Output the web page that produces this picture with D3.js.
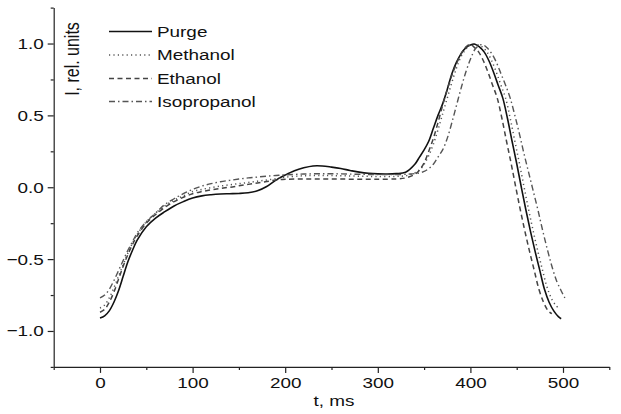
<!DOCTYPE html>
<html><head><meta charset="utf-8">
<script src="https://cdn.jsdelivr.net/npm/d3@7"></script>
<style>
body{margin:0;background:#fff;}
text{font-family:"Liberation Sans",Arial,sans-serif;fill:#111;}
</style></head>
<body><svg id="chart" width="621" height="414"></svg>
<script>
// ---- data ----
const seriesNames = ["Purge","Methanol","Ethanol","Isopropanol"];
const purgeT = [0,5,10,15,20,25,30,35,40,50,60,70,80,90,100,110,120,130,140,150,160,170,180,190,200,210,220,230,240,250,260,270,280,290,300,310,320,330,340,345,350,355,360,365,370,375,380,385,390,395,400,405,410,415,420,425,430,435,440,445,450,455,460,465,470,475,480,485,490,495,498];
const purgeY = [-0.91,-0.895,-0.86,-0.80,-0.72,-0.62,-0.52,-0.44,-0.37,-0.275,-0.215,-0.17,-0.13,-0.10,-0.075,-0.06,-0.052,-0.047,-0.045,-0.043,-0.038,-0.025,0.005,0.05,0.085,0.115,0.135,0.148,0.148,0.14,0.13,0.117,0.105,0.097,0.093,0.092,0.095,0.105,0.16,0.21,0.26,0.32,0.41,0.50,0.58,0.68,0.79,0.87,0.93,0.97,0.99,0.995,0.975,0.94,0.88,0.80,0.71,0.62,0.48,0.32,0.165,0.0,-0.16,-0.31,-0.45,-0.58,-0.71,-0.80,-0.86,-0.90,-0.915];
const methanolT = [0,5,10,15,20,25,30,35,40,50,60,70,80,90,100,110,120,130,140,150,160,170,180,190,200,220,240,260,280,300,320,330,340,345,350,355,360,365,370,375,380,385,390,395,400,405,410,413,418,423,428,433,438,443,448,453,458,463,468,473,478,483,488,492,495];
const methanolY = [-0.84,-0.82,-0.77,-0.70,-0.62,-0.54,-0.46,-0.39,-0.33,-0.24,-0.18,-0.13,-0.09,-0.06,-0.03,-0.015,-0.003,0.008,0.017,0.025,0.033,0.042,0.05,0.06,0.07,0.08,0.082,0.08,0.077,0.075,0.076,0.08,0.10,0.12,0.16,0.22,0.30,0.40,0.51,0.62,0.73,0.83,0.91,0.96,0.99,0.998,0.985,0.975,0.94,0.88,0.80,0.71,0.62,0.48,0.32,0.165,0.0,-0.16,-0.31,-0.45,-0.58,-0.70,-0.78,-0.82,-0.84];
const ethanolT = [0,5,10,15,20,25,30,35,40,50,60,70,80,90,100,110,120,130,140,150,160,170,180,190,200,220,240,260,280,300,320,330,340,345,350,355,360,365,370,375,380,385,390,395,400,404,409,414,419,424,429,434,439,444,449,454,459,464,469,474,479,484,488];
const ethanolY = [-0.87,-0.85,-0.80,-0.73,-0.64,-0.55,-0.47,-0.40,-0.34,-0.25,-0.19,-0.14,-0.10,-0.07,-0.045,-0.03,-0.018,-0.008,0.0,0.01,0.02,0.03,0.04,0.05,0.055,0.058,0.058,0.057,0.056,0.056,0.058,0.065,0.09,0.12,0.17,0.25,0.34,0.45,0.57,0.68,0.78,0.86,0.93,0.975,0.995,0.975,0.94,0.88,0.80,0.71,0.62,0.48,0.32,0.165,0.0,-0.16,-0.31,-0.45,-0.58,-0.71,-0.80,-0.86,-0.88];
const isopropanolT = [0,5,10,15,20,25,30,35,40,50,60,70,80,90,100,110,120,130,140,150,160,170,180,190,200,220,240,260,280,300,320,335,345,350,355,360,365,370,375,380,385,390,395,400,405,410,414,418,423,428,433,438,443,448,453,458,463,468,473,478,483,488,493,498,502];
const isopropanolY = [-0.77,-0.75,-0.71,-0.65,-0.58,-0.51,-0.44,-0.38,-0.32,-0.24,-0.18,-0.12,-0.08,-0.045,-0.015,0.008,0.025,0.038,0.048,0.057,0.065,0.071,0.077,0.082,0.086,0.092,0.094,0.093,0.09,0.088,0.088,0.092,0.10,0.11,0.13,0.16,0.21,0.26,0.34,0.45,0.57,0.69,0.80,0.89,0.96,0.99,0.99,0.97,0.93,0.87,0.79,0.71,0.62,0.50,0.37,0.23,0.10,-0.03,-0.16,-0.30,-0.43,-0.55,-0.65,-0.72,-0.77];
const xMajorTicks = [0,100,200,300,400,500];
const xMinorTicks = [-50,50,150,250,350,450,550];
const yMajorTicks = [-1.0,-0.5,0.0,0.5,1.0];
const yMinorTicks = [-1.25,-0.75,-0.25,0.25,0.75,1.25];
const xLabel = "t, ms";
const yLabel = "I, rel. units";

// ---- chart ----
const svg = d3.select("#chart");
const x = d3.scaleLinear().domain([-50,550]).range([53.7,609.3]);
const y = d3.scaleLinear().domain([-1.25,1.25]).range([366.9,7.6]);
const SX = 1.22; // horizontal text stretch of the original
const fs = 15.5;

const series = [
  {name:seriesNames[0], t:purgeT, v:purgeY, color:"#111", dash:null, w:1.6},
  {name:seriesNames[1], t:methanolT, v:methanolY, color:"#555", dash:"1.2,3.2", w:1.5},
  {name:seriesNames[2], t:ethanolT, v:ethanolY, color:"#444", dash:"5,3.5", w:1.5},
  {name:seriesNames[3], t:isopropanolT, v:isopropanolY, color:"#555", dash:"6,3,1.5,3", w:1.4}
];

const line = d3.line().x(d=>x(d[0])).y(d=>y(d[1])).curve(d3.curveCatmullRom.alpha(0.5));

// axes
const xAxisMajor = d3.axisBottom(x).tickValues(xMajorTicks).tickSize(6).tickSizeOuter(0).tickFormat(d3.format("d")).tickPadding(4);
const gx = svg.append("g").attr("transform",`translate(0,${y(-1.25)})`).call(xAxisMajor);
gx.append("g").call(d3.axisBottom(x).tickValues(xMinorTicks).tickSize(3).tickSizeOuter(0).tickFormat(""))
  .select(".domain").remove();
gx.selectAll(".tick text").attr("font-size",fs).attr("fill","#111").style("font-family","'Liberation Sans',Arial,sans-serif")
  .attr("transform",`scale(${SX},1)`);

const yAxisMajor = d3.axisLeft(y).tickValues(yMajorTicks).tickSize(6).tickSizeOuter(0).tickFormat(d3.format(".1f")).tickPadding(4);
const gy = svg.append("g").attr("transform",`translate(${x(-50)},0)`).call(yAxisMajor);
gy.append("g").call(d3.axisLeft(y).tickValues(yMinorTicks).tickSize(3).tickSizeOuter(0).tickFormat(""))
  .select(".domain").remove();
gy.selectAll(".tick text").attr("font-size",fs).attr("fill","#111").style("font-family","'Liberation Sans',Arial,sans-serif")
  .attr("transform",`scale(${SX},1)`).attr("x",-10/SX);

svg.selectAll(".domain, .tick line").attr("stroke","#222").attr("stroke-width",1.2);

// axis labels
svg.append("text").attr("x",334/SX).attr("y",406).attr("text-anchor","middle")
  .attr("font-size",fs).attr("transform",`scale(${SX},1)`).text(xLabel);
svg.append("text").attr("transform",`translate(79,59) rotate(-90) scale(1,${SX})`).attr("text-anchor","middle")
  .attr("font-size",fs+0.5).text(yLabel);

// lines
svg.append("g").selectAll("path").data(series).join("path")
  .attr("d",s=>line(s.t.map((t,i)=>[t,s.v[i]])))
  .attr("fill","none").attr("stroke",s=>s.color).attr("stroke-width",s=>s.w)
  .attr("stroke-dasharray",s=>s.dash);

// legend
const leg = svg.append("g");
const rowY = [31.5,55,78.5,101.5];
series.forEach((s,i)=>{
  leg.append("line").attr("x1",109).attr("x2",152).attr("y1",rowY[i]).attr("y2",rowY[i])
    .attr("stroke",s.color).attr("stroke-width",s.w).attr("stroke-dasharray",s.dash);
  leg.append("text").attr("x",157/SX).attr("y",rowY[i]+5.5).attr("font-size",fs)
    .attr("transform",`scale(${SX},1)`).text(s.name);
});
</script></body></html>
